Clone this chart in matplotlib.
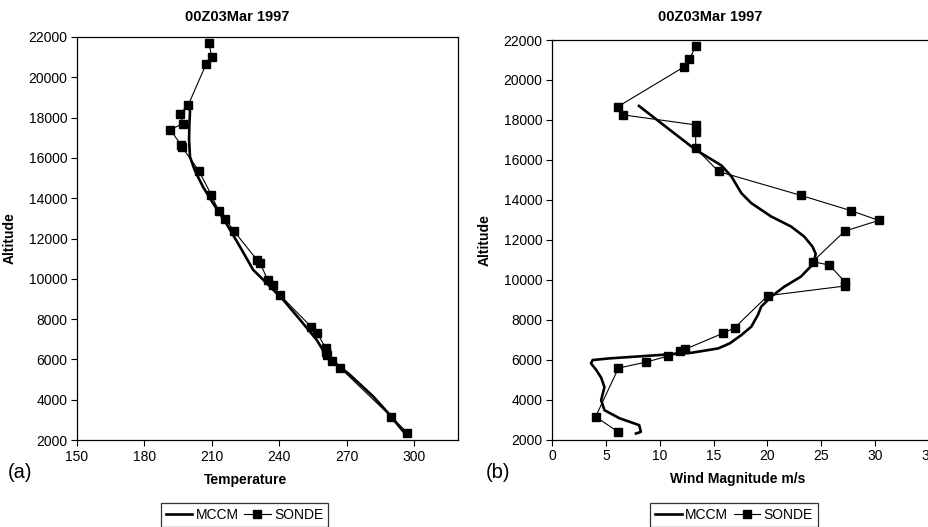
import numpy as np
import matplotlib
matplotlib.use("Agg")
import matplotlib.pyplot as plt
from matplotlib.lines import Line2D

plt.rcParams['font.family'] = ['Liberation Sans', 'DejaVu Sans']

title = '00Z03Mar 1997'

# (a) temperature profile
sonde_t = [208.8, 209.9, 207.5, 199.6, 195.9, 197.1, 191.6, 196.3, 196.8, 204.2,
           209.7, 213.0, 215.9, 219.8, 230.3, 231.5, 235.0, 237.3, 240.4, 254.1,
           256.8, 260.7, 261.0, 261.4, 263.6, 267.0, 289.8, 297.0]
sonde_t_alt = [21700, 21008, 20661, 18645, 18198, 17700, 17405, 16628, 16530, 15372,
               14182, 13388, 12992, 12380, 10911, 10778, 9917, 9702, 9189, 7632,
               7334, 6556, 6391, 6209, 5927, 5596, 3162, 2368]
mccm_t = [199.6, 200.3, 200.0, 199.9, 200.3, 202.4, 206.1, 210.6, 216.5, 222.5,
          228.4, 234.4, 241.8, 249.3, 256.7, 261.2, 264.1, 271.5, 281.9, 288.6,
          295.3, 296.8]
mccm_t_alt = [18645, 18300, 17600, 16900, 16050, 15390, 14560, 13740, 12740, 11600,
              10447, 9785, 8957, 7964, 6970, 6142, 5894, 5232, 4156, 3328,
              2417, 2334]

# (b) wind profile
sonde_w = [13.34, 12.76, 12.30, 6.13, 6.63, 13.34, 13.34, 13.34, 15.46, 23.13,
           27.79, 30.34, 27.18, 24.2, 25.74, 27.18, 27.18, 20.03, 16.96, 15.92,
           12.33, 11.87, 10.77, 8.74, 6.17, 4.05, 6.17]
sonde_w_alt = [21700, 21033, 20667, 18667, 18250, 17750, 17417, 16583, 15417, 14217,
               13450, 12967, 12433, 10902, 10735, 9900, 9683, 9199, 7596, 7329,
               6511, 6427, 6177, 5876, 5576, 3139, 2371]
mccm_w = [8.07, 13.34, 15.74, 16.66, 17.58, 18.5, 20.34, 22.18, 23.4, 24.17,
          24.48, 24.4, 24.0, 23.1, 21.56, 20.34, 19.42, 19.11, 18.5, 17.58,
          16.5, 15.43, 14.5, 12.98, 9.91, 5.31, 3.77, 3.62, 4.08, 4.56,
          4.87, 4.56, 4.87, 6.25, 8.1, 8.25, 7.8]
mccm_w_alt = [18700, 16500, 15717, 15167, 14333, 13833, 13167, 12667, 12167, 11667,
              11300, 11100, 10651, 10150, 9649, 9149, 8648, 8230, 7646, 7229,
              6811, 6561, 6477, 6344, 6227, 6060, 5977, 5810, 5500, 5100,
              4620, 3968, 3468, 3067, 2716, 2381, 2300]

fig = plt.figure(figsize=(9.29, 5.27), dpi=100)
ax1 = fig.add_axes([77/929, 1-440/527, 381/929, 403/527])
ax2 = fig.add_axes([552/929, 1-439.5/527, 377/929, 399.5/527])

thin = dict(color='black', lw=0.8, marker='s', ms=5.5, mfc='black', mec='black')
thick = dict(color='black', lw=1.9)

ax1.plot(mccm_t, mccm_t_alt, **thick)
ax1.plot(sonde_t, sonde_t_alt, **thin)
ax1.set_xlim(150, 319.6)
ax1.set_xticks(np.arange(150, 301, 30))

ax2.plot(mccm_w, mccm_w_alt, **thick)
ax2.plot(sonde_w, sonde_w_alt, **thin)
ax2.set_xlim(0, 34.77)
ax2.set_xticks(np.arange(0, 36, 5))
ax2.spines['right'].set_visible(False)

for ax in (ax1, ax2):
    ax.set_ylim(2000, 22000)
    ax.set_yticks(np.arange(2000, 22001, 2000))
    ax.tick_params(direction='out', length=4, width=0.8, labelsize=10, pad=3)
    for s in ax.spines.values():
        s.set_linewidth(0.9)
    ax.set_ylabel('Altitude', fontweight='bold', fontsize=10)

ax1.yaxis.set_label_coords(-60/381, 0.5)
ax2.yaxis.set_label_coords(-60/377, 0.5)
ax1.set_xlabel('Temperature', fontweight='bold', fontsize=10)
ax2.set_xlabel('Wind Magnitude m/s', fontweight='bold', fontsize=10)
ax1.xaxis.set_label_coords((246-77)/381, -33/403)
ax2.xaxis.set_label_coords((738-552)/377, -33/399.5)

fig.text(237/929, 1-17/527, title, ha='center', va='center', fontweight='bold', fontsize=10.5)
fig.text(710/929, 1-17/527, title, ha='center', va='center', fontweight='bold', fontsize=10.5)
fig.text(20/929, 1-472/527, '(a)', ha='center', va='center', fontsize=14.5)
fig.text(498/929, 1-472/527, '(b)', ha='center', va='center', fontsize=14.5)

handles = [Line2D([], [], **thick), Line2D([], [], **thin)]
for cx in (244.5/929, 734/929):
    leg = fig.legend(handles, ['MCCM', 'SONDE'], loc='upper center',
                     bbox_to_anchor=(cx, 1-503/527), ncol=2, fontsize=10,
                     frameon=True, fancybox=False, handlelength=1.9,
                     handletextpad=0.25, columnspacing=0.4, borderpad=0.35,
                     borderaxespad=0)
    leg.get_frame().set_edgecolor('black')
    leg.get_frame().set_linewidth(0.9)

fig.savefig('out.png', dpi=100)
